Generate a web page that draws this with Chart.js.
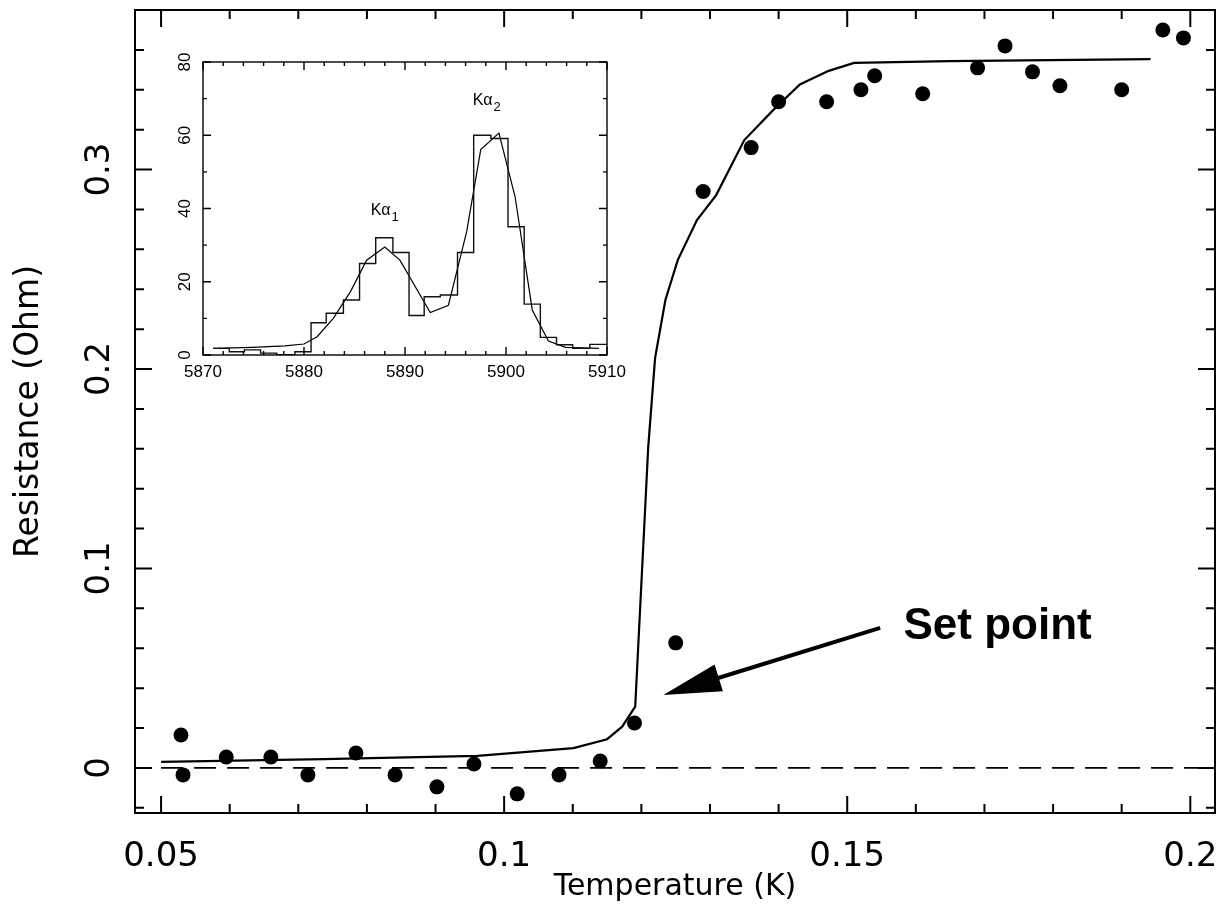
<!DOCTYPE html>
<html>
<head>
<meta charset="utf-8">
<title>Resistance vs Temperature</title>
<script src="https://cdn.jsdelivr.net/npm/chart.js@4.4.0/dist/chart.umd.min.js"></script>
<style>
  html, body { margin: 0; padding: 0; background: #fff; }
  #wrap { position: relative; width: 1224px; height: 911px; }
  #mainChart { position: absolute; left: 0; top: 0; }
  #insetChart { position: absolute; left: 160px; top: 40px; }
</style>
</head>
<body>
<div id="wrap">
  <canvas id="mainChart" width="1224" height="911"></canvas>
  <canvas id="insetChart" width="480" height="350"></canvas>
</div>
<script>
// Puntos medidos (temperatura en K, resistencia en Ohm)
const tempK = [0.0529, 0.0532, 0.0595, 0.0660, 0.0714, 0.0784, 0.0841, 0.0902, 0.0956, 0.1019,
               0.1080, 0.1140, 0.1190, 0.1250, 0.1290, 0.1360, 0.1400, 0.1470, 0.1520, 0.1540,
               0.1610, 0.1690, 0.1730, 0.1770, 0.1810, 0.1900, 0.1960, 0.1990];
const resistOhm = [0.0165, -0.0035, 0.0055, 0.0055, -0.0035, 0.0075, -0.0035, -0.0095, 0.0020, -0.0130,
                   -0.0035, 0.0035, 0.0225, 0.0627, 0.2890, 0.3110, 0.3340, 0.3340, 0.3400, 0.3470,
                   0.3380, 0.3510, 0.3620, 0.3490, 0.3420, 0.3400, 0.3700, 0.3660];

// Curva de ajuste
const fitTempK = [0.0500, 0.0737, 0.0961, 0.1101, 0.1150, 0.1172, 0.1191, 0.1210, 0.1220, 0.1235,
                  0.1253, 0.1281, 0.1309, 0.1350, 0.1392, 0.1431, 0.1473, 0.1510, 0.1649, 0.1942];
const fitResistOhm = [0.0030, 0.0044, 0.0060, 0.0099, 0.0144, 0.0207, 0.0307, 0.1610, 0.2056, 0.2346,
                      0.2546, 0.2747, 0.2872, 0.3148, 0.3298, 0.3427, 0.3495, 0.3535, 0.3544, 0.3554];

// Linea de cero (discontinua)
const zeroTempK = [0.05, 0.2036];
const zeroOhm = [0, 0];

const xTickValues = [0.05, 0.1, 0.15, 0.2];
const xTickLabels = ['0.05', '0.1', '0.15', '0.2'];
const yTickValues = [0, 0.1, 0.2, 0.3];
const yTickLabels = ['0', '0.1', '0.2', '0.3'];

// Recuadro: espectro (histograma) y ajuste
const energyEdges = [5871.0, 5872.6, 5874.1, 5875.7, 5877.3, 5879.1, 5880.7, 5882.2, 5883.9, 5885.5,
                     5887.1, 5888.8, 5890.4, 5891.9, 5893.5, 5895.2, 5896.8, 5898.5, 5900.2, 5901.8,
                     5903.4, 5905.0, 5906.6, 5908.3, 5910.0];
const energyCounts = [1.8, 0.9, 1.4, 0.5, 0.1, 0.9, 8.8, 11.4, 15.0, 25.0,
                      32.0, 28.0, 10.8, 15.9, 16.4, 28.0, 60.0, 59.1, 35.0, 13.9,
                      4.8, 2.8, 1.8, 2.9];
const lineFitEnergy = [5871.0, 5874.9, 5878.1, 5880.0, 5881.3, 5882.9, 5884.6, 5886.2, 5888.0, 5889.5,
                       5892.5, 5894.3, 5896.1, 5897.5, 5899.3, 5900.9, 5902.6, 5904.2, 5905.9, 5909.2];
const lineFitCounts = [1.8, 2.1, 2.5, 3.0, 5.0, 10.0, 17.3, 25.9, 29.5, 25.9,
                       11.6, 13.6, 33.6, 56.1, 60.6, 43.2, 12.3, 3.8, 2.1, 1.8];

const insetXTicks = [5870, 5880, 5890, 5900, 5910];
const insetXLabels = ['5870', '5880', '5890', '5900', '5910'];
const insetYTicks = [0, 20, 40, 60, 80];
const insetYLabels = ['0', '20', '40', '60', '80'];

const mainFont = 'DejaVu Sans, sans-serif';
const insetFont = 'Liberation Sans, Arial, sans-serif';

// Marco y marcas hacia dentro en los cuatro lados
function drawFrame(chart, xMajor, xMinor, yMajor, yMinor, majLen, minLen, lw) {
    const ctx = chart.ctx, a = chart.chartArea;
    const xs = chart.scales.x, ys = chart.scales.y;
    ctx.save();
    ctx.strokeStyle = '#000';
    ctx.lineWidth = lw;
    ctx.strokeRect(a.left, a.top, a.right - a.left, a.bottom - a.top);
    ctx.beginPath();
    function xt(v, len) {
        const p = xs.getPixelForValue(v);
        ctx.moveTo(p, a.bottom); ctx.lineTo(p, a.bottom - len);
        ctx.moveTo(p, a.top); ctx.lineTo(p, a.top + len);
    }
    function yt(v, len) {
        const p = ys.getPixelForValue(v);
        ctx.moveTo(a.left, p); ctx.lineTo(a.left + len, p);
        ctx.moveTo(a.right, p); ctx.lineTo(a.right - len, p);
    }
    xMinor.forEach(v => xt(v, minLen));
    xMajor.forEach(v => xt(v, majLen));
    yMinor.forEach(v => yt(v, minLen));
    yMajor.forEach(v => yt(v, majLen));
    ctx.stroke();
    ctx.restore();
}

function rotatedLabels(chart, values, labels, x, font) {
    const ctx = chart.ctx, ys = chart.scales.y;
    ctx.save();
    ctx.fillStyle = '#000';
    ctx.font = font;
    ctx.textAlign = 'center';
    ctx.textBaseline = 'middle';
    values.forEach((v, i) => {
        ctx.save();
        ctx.translate(x, ys.getPixelForValue(v));
        ctx.rotate(-Math.PI / 2);
        ctx.fillText(labels[i], 0, 0);
        ctx.restore();
    });
    ctx.restore();
}

const mainXMinor = [];
for (let i = 5; i <= 20; i++) mainXMinor.push(i / 100);
const mainYMinor = [];
for (let i = -1; i <= 19; i++) mainYMinor.push(i * 0.02);

const setPoint = { tipT: 0.1232, tipR: 0.0366, tailT: 0.1548, tailR: 0.0702, textT: 0.1582, textR: 0.0707 };

const mainDecor = {
    id: 'mainDecor',
    afterDraw(chart) {
        const ctx = chart.ctx, xs = chart.scales.x, ys = chart.scales.y;
        drawFrame(chart, xTickValues, mainXMinor, yTickValues, mainYMinor, 17, 9, 2);
        rotatedLabels(chart, yTickValues, yTickLabels, chart.chartArea.left - 35, '34px ' + mainFont);

        // Flecha "Set point"
        const tx = xs.getPixelForValue(setPoint.tipT), ty = ys.getPixelForValue(setPoint.tipR);
        const ex = xs.getPixelForValue(setPoint.tailT), ey = ys.getPixelForValue(setPoint.tailR);
        const len = Math.hypot(ex - tx, ey - ty);
        const ux = (ex - tx) / len, uy = (ey - ty) / len;
        const bx = tx + ux * 58, by = ty + uy * 58;
        ctx.save();
        ctx.strokeStyle = '#000';
        ctx.fillStyle = '#000';
        ctx.lineWidth = 4;
        ctx.beginPath();
        ctx.moveTo(bx - ux * 4, by - uy * 4);
        ctx.lineTo(ex, ey);
        ctx.stroke();
        ctx.beginPath();
        ctx.moveTo(tx, ty);
        ctx.lineTo(bx - uy * 14, by + ux * 14);
        ctx.lineTo(bx + uy * 14, by - ux * 14);
        ctx.closePath();
        ctx.fill();
        ctx.font = 'bold 44px Liberation Sans, Arial, sans-serif';
        ctx.textAlign = 'left';
        ctx.textBaseline = 'middle';
        ctx.fillText('Set point', xs.getPixelForValue(setPoint.textT), ys.getPixelForValue(setPoint.textR));
        ctx.restore();
    }
};

const mainChart = new Chart(document.getElementById('mainChart').getContext('2d'), {
    type: 'scatter',
    data: {
        datasets: [{
            label: 'Medidas',
            data: tempK.map((t, i) => ({ x: t, y: resistOhm[i] })),
            pointStyle: 'circle',
            pointRadius: 7.5,
            pointBackgroundColor: '#000',
            pointBorderWidth: 0,
            showLine: false
        }, {
            label: 'Ajuste',
            data: fitTempK.map((t, i) => ({ x: t, y: fitResistOhm[i] })),
            showLine: true,
            borderColor: '#000',
            borderWidth: 2.2,
            pointRadius: 0,
            tension: 0
        }, {
            label: 'Cero',
            data: zeroTempK.map((t, i) => ({ x: t, y: zeroOhm[i] })),
            showLine: true,
            borderColor: '#000',
            borderWidth: 1.6,
            borderDash: [22, 11],
            pointRadius: 0
        }]
    },
    options: {
        responsive: false,
        animation: false,
        devicePixelRatio: 1,
        layout: { padding: { top: 10, right: 9, left: 0, bottom: 0 } },
        plugins: { legend: { display: false }, tooltip: { enabled: false } },
        scales: {
            x: {
                type: 'linear',
                min: 0.0462,
                max: 0.2036,
                afterBuildTicks: function(scale) {
                    scale.ticks = xTickValues.map(v => ({ value: v }));
                },
                afterFit: function(scale) {
                    scale.height = 98;
                    scale.paddingLeft = 0;
                    scale.paddingRight = 0;
                },
                grid: { display: false, drawTicks: false },
                border: { display: false },
                ticks: {
                    color: '#000',
                    font: { family: mainFont, size: 34 },
                    padding: 24,
                    maxRotation: 0,
                    autoSkip: false,
                    callback: function(value, index) { return xTickLabels[index]; }
                },
                title: {
                    display: true,
                    text: 'Temperature (K)',
                    color: '#000',
                    font: { family: mainFont, size: 30 },
                    padding: { top: 0, bottom: 6 }
                }
            },
            y: {
                type: 'linear',
                min: -0.0226,
                max: 0.38,
                afterFit: function(scale) {
                    scale.width = 135;
                    scale.paddingTop = 0;
                    scale.paddingBottom = 0;
                },
                grid: { display: false, drawTicks: false },
                border: { display: false },
                ticks: { display: false },
                title: {
                    display: true,
                    text: 'Resistance (Ohm)',
                    color: '#000',
                    font: { family: mainFont, size: 33 },
                    padding: { top: 10, bottom: 0 }
                }
            }
        }
    },
    plugins: [mainDecor]
});

// Recuadro del espectro
const insetXMinor = [];
for (let i = 0; i <= 20; i++) insetXMinor.push(5870 + 2 * i);
const insetYMinor = [];
for (let i = 0; i <= 8; i++) insetYMinor.push(10 * i);

const insetDecor = {
    id: 'insetDecor',
    afterDraw(chart) {
        const ctx = chart.ctx, xs = chart.scales.x, ys = chart.scales.y, a = chart.chartArea;
        drawFrame(chart, insetXTicks, insetXMinor, insetYTicks, insetYMinor, 8, 4, 1.4);
        rotatedLabels(chart, insetYTicks, insetYLabels, a.left - 18, '17px ' + insetFont);
        ctx.save();
        ctx.fillStyle = '#000';
        ctx.font = '17px ' + insetFont;
        ctx.textAlign = 'center';
        ctx.textBaseline = 'middle';
        insetXTicks.forEach((v, i) => ctx.fillText(insetXLabels[i], xs.getPixelForValue(v), a.bottom + 17));
        // Etiquetas K-alfa
        function kLabel(e, c, sub) {
            const x = xs.getPixelForValue(e), y = ys.getPixelForValue(c);
            ctx.textAlign = 'left';
            ctx.textBaseline = 'alphabetic';
            ctx.font = '16px ' + insetFont;
            ctx.fillText('K\u03B1', x, y);
            const w = ctx.measureText('K\u03B1').width;
            ctx.font = '13px ' + insetFont;
            ctx.fillText(sub, x + w + 1, y + 6);
        }
        kLabel(5886.6, 38.2, '1');
        kLabel(5896.7, 68.2, '2');
        ctx.restore();
    }
};

const insetChart = new Chart(document.getElementById('insetChart').getContext('2d'), {
    type: 'scatter',
    data: {
        datasets: [{
            label: 'Espectro',
            data: energyEdges.map((e, i) => ({ x: e, y: energyCounts[Math.min(i, energyCounts.length - 1)] })),
            showLine: true,
            stepped: 'before',
            borderColor: '#111',
            borderWidth: 1.4,
            pointRadius: 0
        }, {
            label: 'Ajuste',
            data: lineFitEnergy.map((e, i) => ({ x: e, y: lineFitCounts[i] })),
            showLine: true,
            borderColor: '#000',
            borderWidth: 1.2,
            pointRadius: 0,
            tension: 0
        }]
    },
    options: {
        responsive: false,
        animation: false,
        devicePixelRatio: 1,
        layout: { padding: { top: 22, right: 33, left: 43, bottom: 35 } },
        plugins: { legend: { display: false }, tooltip: { enabled: false } },
        scales: {
            x: { type: 'linear', min: 5870, max: 5910, display: false },
            y: { type: 'linear', min: 0, max: 80, display: false }
        }
    },
    plugins: [insetDecor]
});
</script>
</body>
</html>
